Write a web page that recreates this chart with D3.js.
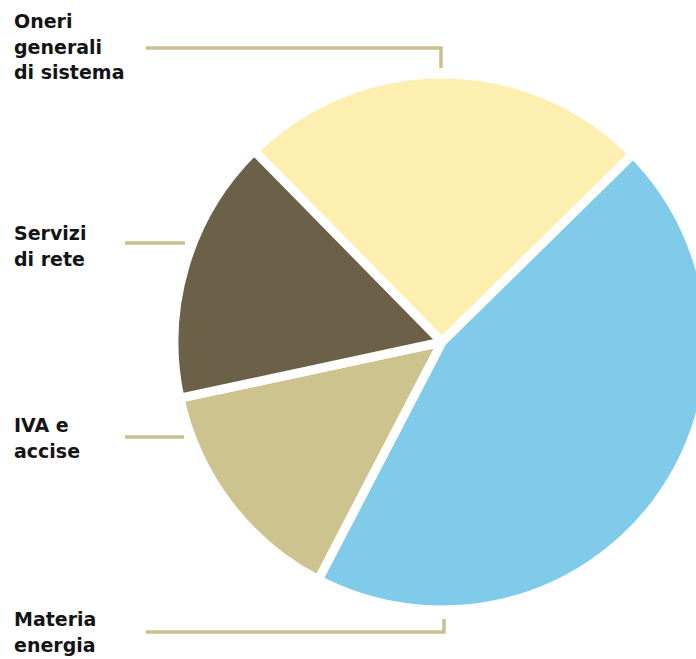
<!DOCTYPE html>
<html>
<head>
<meta charset="utf-8">
<script src="https://cdn.jsdelivr.net/npm/d3@7"></script>
<style>
  html, body { margin: 0; padding: 0; background: #fff; }
  svg { display: block; }
  text { font-family: "DejaVu Sans", "Lato", sans-serif; font-weight: 700; fill: #141414; }
</style>
</head>
<body>
<svg id="chart" width="696" height="659"></svg>
<script>
// Composizione della bolletta (quote percentuali)
const categories = ["Oneri generali di sistema", "Materia energia", "IVA e accise", "Servizi di rete"];
const values = [25, 45, 14, 16];
const colors = ["#fdefb0", "#7fcbe9", "#cdc38e", "#6b6149"];

// Etichette a capo, una riga per elemento
const labelLines = [
  ["Oneri", "generali", "di sistema"],
  ["Materia", "energia"],
  ["IVA e", "accise"],
  ["Servizi", "di rete"]
];

const width = 696, height = 659;
const cx = 442, cy = 342, radius = 268;
const startDeg = -44.5;

const svg = d3.select("#chart");

const pie = d3.pie()
  .sort(null)
  .value(d => d)
  .startAngle(startDeg * Math.PI / 180)
  .endAngle((startDeg + 360) * Math.PI / 180);

const arc = d3.arc().innerRadius(0).outerRadius(radius);

const color = d3.scaleOrdinal().domain(categories).range(colors);

svg.append("g")
  .attr("transform", `translate(${cx},${cy})`)
  .selectAll("path")
  .data(pie(values))
  .join("path")
  .attr("d", arc)
  .attr("fill", (d, i) => color(categories[i]))
  .attr("stroke", "#fff")
  .attr("stroke-width", 9)
  .attr("stroke-linejoin", "round");

// Linee di richiamo
const leaderColor = "#cac08e";
const leaders = [
  { pts: [[146, 48], [441, 48], [441, 68]] },
  { pts: [[146, 632], [444, 632], [444, 619]] },
  { pts: [[125, 437], [184, 437]] },
  { pts: [[125, 243], [185, 243]] }
];
const line = d3.line();
svg.append("g")
  .selectAll("path")
  .data(leaders)
  .join("path")
  .attr("d", d => line(d.pts))
  .attr("fill", "none")
  .attr("stroke", leaderColor)
  .attr("stroke-width", 3.5);

// Testi delle etichette
const labelPos = [
  { x: 14, y: 28 },
  { x: 14, y: 626 },
  { x: 14, y: 432 },
  { x: 14, y: 240 }
];
const lineH = 25.5;
labelLines.forEach((lines, i) => {
  const t = svg.append("text")
    .attr("x", labelPos[i].x)
    .attr("y", labelPos[i].y)
    .attr("font-size", 19);
  lines.forEach((s, j) => {
    t.append("tspan")
      .attr("x", labelPos[i].x)
      .attr("dy", j === 0 ? 0 : lineH)
      .text(s);
  });
});
</script>
</body>
</html>
